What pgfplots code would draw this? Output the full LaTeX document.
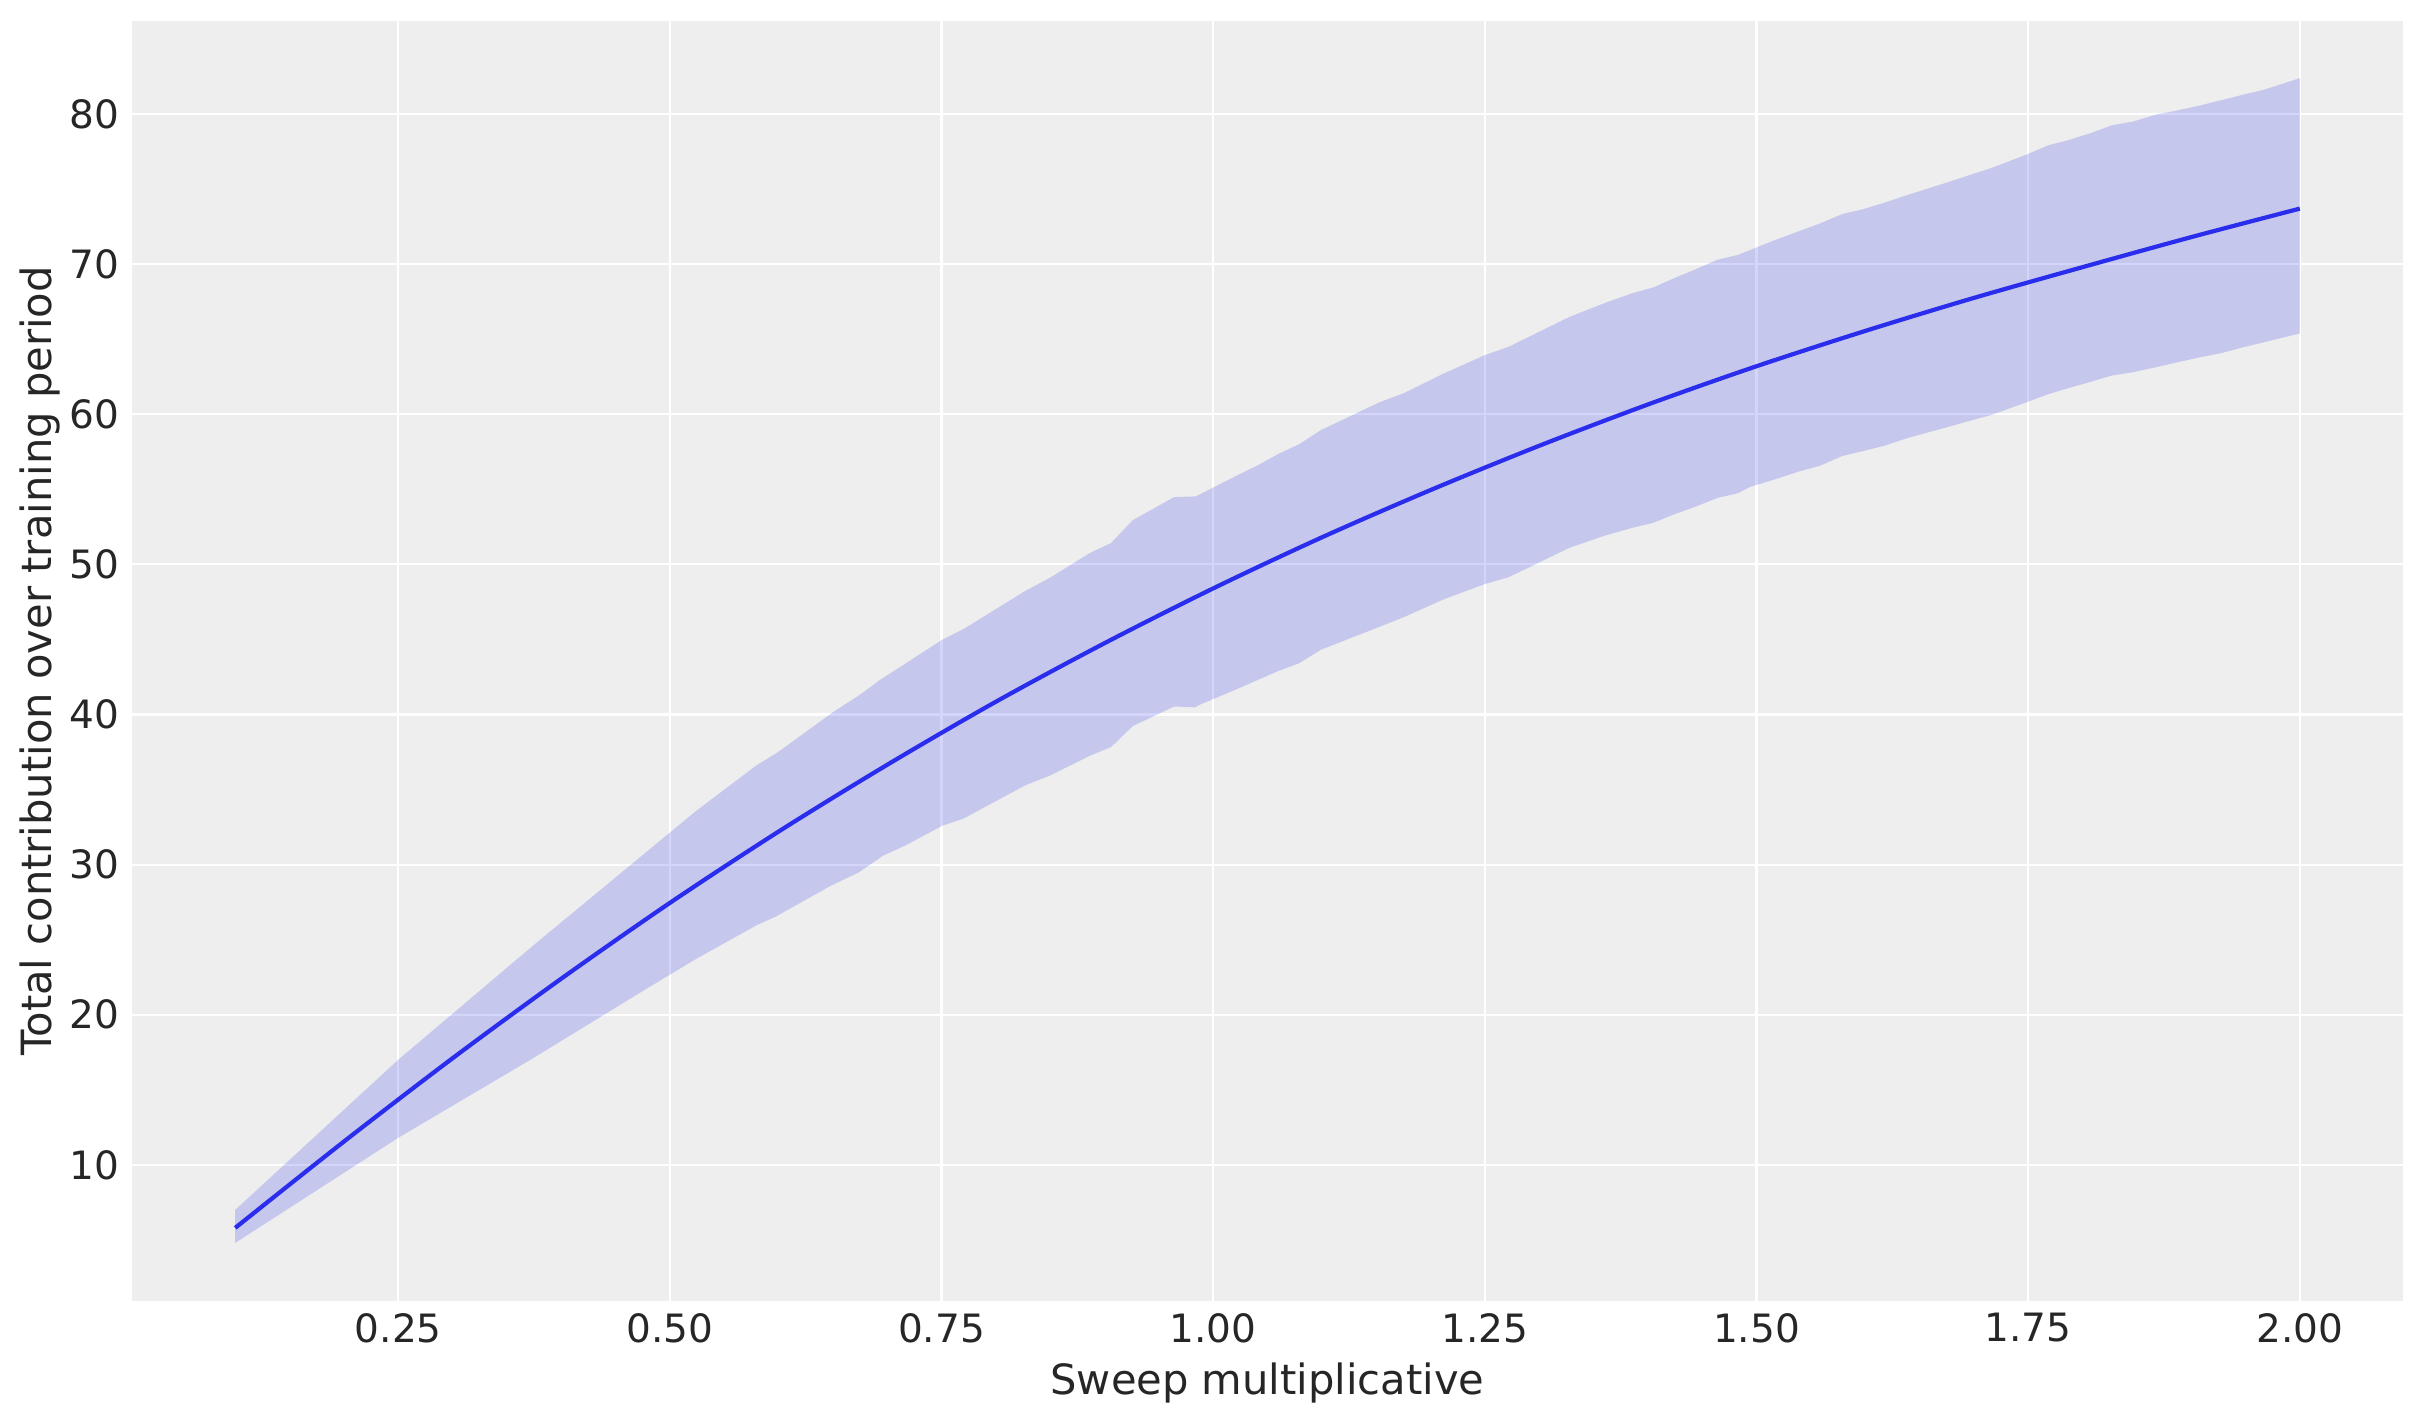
\documentclass[border=0pt]{standalone}
\usepackage{fontspec}
\setmainfont{DejaVu Sans}
\usepackage{pgfplots}
\pgfplotsset{compat=1.18}
\definecolor{arvizblue}{HTML}{2A2EEC}
\definecolor{bgc}{HTML}{EEEEEE}
\definecolor{txt}{HTML}{262626}
\begin{document}
\begin{tikzpicture}
\useasboundingbox (0,0) rectangle (24.23,14.23);
\begin{axis}[
  at={(1.32cm,1.22cm)}, anchor=south west,
  width=22.71cm, height=12.80cm, scale only axis,
  xmin=0.005, xmax=2.095, ymin=0.93, ymax=86.2,
  axis background/.style={fill=bgc},
  axis line style={draw=none},
  major tick length=0pt,
  grid=major, grid style={white, line width=0.6pt},
  xtick={0.25,0.5,0.75,1.0,1.25,1.5,1.75,2.0},
  ytick={10,20,30,40,50,60,70,80},
  xticklabel style={/pgf/number format/.cd, fixed, fixed zerofill, precision=2},
  /pgf/number format/assume math mode=true,
  tick label style={font=\fontsize{11.1}{13}\selectfont, text=txt},
  label style={font=\fontsize{11.85}{14}\selectfont, text=txt},
  xlabel={Sweep multiplicative},
  ylabel={Total contribution over training period},
  xlabel style={at={(axis description cs:0.5,-0.064)}, anchor=center},
  ylabel style={at={(axis description cs:-0.0403,0.5)}, anchor=center},
]
% HDI band: upper edge left to right, then lower edge right to left
\addplot[draw=none, fill=arvizblue, fill opacity=0.2, forget plot] coordinates {
(0.100,7.0) (0.175,12.0) (0.25,17.0) (0.374,24.6) (0.481,31.0) (0.524,33.57)
(0.580,36.63) (0.599,37.47) (0.651,40.2) (0.674,41.27) (0.693,42.29) (0.714,43.26)
(0.751,45.0) (0.770,45.68) (0.827,48.23) (0.850,49.12) (0.887,50.78) (0.906,51.42)
(0.926,52.95) (0.964,54.48) (0.984,54.53) (1.024,56.0) (1.041,56.6) (1.060,57.36)
(1.079,58.0) (1.099,58.94) (1.153,60.8) (1.175,61.39) (1.212,62.71) (1.250,63.94)
(1.272,64.5) (1.328,66.49) (1.361,67.43) (1.386,68.07) (1.405,68.45) (1.425,69.09)
(1.442,69.6) (1.464,70.29) (1.483,70.62) (1.515,71.55) (1.540,72.22) (1.558,72.7)
(1.579,73.34) (1.597,73.64) (1.618,74.1) (1.639,74.61) (1.678,75.5) (1.699,76.01)
(1.716,76.4) (1.748,77.29) (1.769,77.93) (1.787,78.26) (1.808,78.74) (1.827,79.25)
(1.847,79.51) (1.868,79.97) (1.886,80.22) (1.907,80.55) (1.928,80.93) (1.945,81.24)
(1.967,81.62) (2.000,82.39)
(2.000,65.38) (1.967,64.8) (1.945,64.41) (1.928,64.08) (1.907,63.78) (1.886,63.44)
(1.868,63.14) (1.847,62.81) (1.827,62.58) (1.808,62.17) (1.787,61.74) (1.769,61.35)
(1.748,60.79) (1.716,59.95) (1.699,59.62) (1.678,59.19) (1.639,58.42) (1.618,57.91)
(1.597,57.53) (1.579,57.22) (1.558,56.56) (1.540,56.21) (1.515,55.62) (1.494,55.16)
(1.483,54.74) (1.464,54.43) (1.442,53.79) (1.425,53.36) (1.405,52.77) (1.386,52.44)
(1.361,51.93) (1.328,51.11) (1.272,49.15) (1.250,48.69) (1.212,47.67) (1.175,46.47)
(1.153,45.84) (1.099,44.31) (1.079,43.41) (1.060,42.9) (1.023,41.73) (0.988,40.66)
(0.983,40.48) (0.964,40.53) (0.926,39.23) (0.906,37.83) (0.887,37.27) (0.850,35.94)
(0.827,35.28) (0.770,33.06) (0.751,32.6) (0.716,31.25) (0.696,30.59) (0.674,29.49)
(0.647,28.55) (0.598,26.56) (0.580,25.97) (0.524,23.71) (0.481,21.84) (0.374,17.1)
(0.25,11.8) (0.175,8.3) (0.100,4.8)
};
% median
\addplot[arvizblue, line width=1.2pt, no markers, smooth] coordinates {
(0.1,5.8) (0.2,11.55) (0.3,17.1) (0.4,22.4) (0.5,27.45) (0.6,32.2) (0.7,36.65)
(0.8,40.85) (0.9,44.75) (1.0,48.4) (1.1,51.8) (1.2,54.95) (1.3,57.9) (1.4,60.65)
(1.5,63.2) (1.6,65.55) (1.7,67.75) (1.8,69.8) (1.9,71.8) (2.0,73.7)
};
\end{axis}
\end{tikzpicture}
\end{document}
